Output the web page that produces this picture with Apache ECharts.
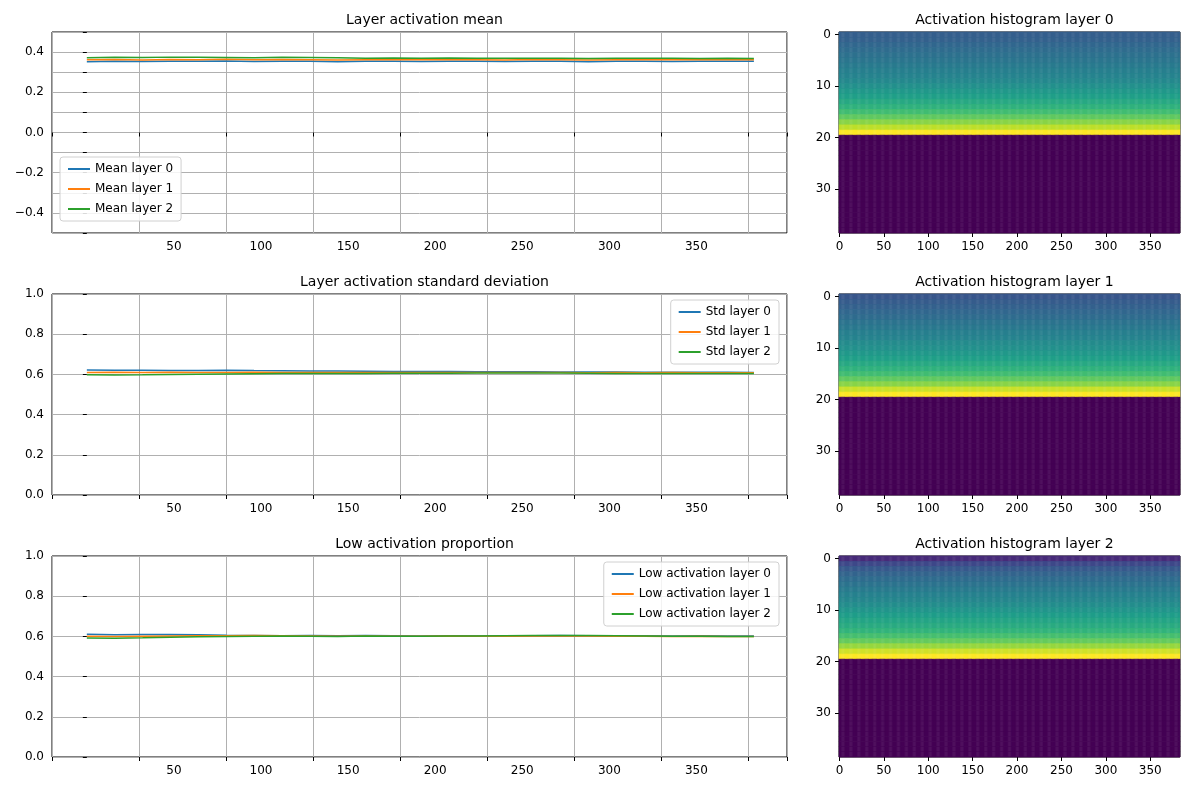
<!DOCTYPE html>
<html lang="en">
<head>
    <meta charset="UTF-8">
    <title>Layer activations</title>
    <script src="https://cdn.jsdelivr.net/npm/echarts@6.0.0/dist/echarts.min.js"></script>
</head>
<body style="margin:0">
    <div id="main" style="width: 1189px; height: 790px; background-color: #fff;"></div>
    <script>
        // sample steps
        const steps = [0, 16, 32, 48, 64, 80, 96, 112, 128, 144, 160, 176, 192, 208, 224, 240, 256, 272, 288, 304, 320, 336, 352, 368, 383];

        const mean0 = [0.352, 0.354, 0.353, 0.355, 0.354, 0.356, 0.353, 0.355, 0.354, 0.352, 0.355, 0.354, 0.353, 0.355, 0.354, 0.353, 0.355, 0.354, 0.352, 0.354, 0.355, 0.353, 0.354, 0.355, 0.354];
        const mean1 = [0.362, 0.363, 0.361, 0.363, 0.362, 0.364, 0.362, 0.363, 0.362, 0.361, 0.362, 0.363, 0.362, 0.363, 0.362, 0.361, 0.363, 0.362, 0.361, 0.362, 0.363, 0.362, 0.363, 0.362, 0.362];
        const mean2 = [0.372, 0.374, 0.373, 0.375, 0.374, 0.373, 0.372, 0.374, 0.373, 0.372, 0.370, 0.371, 0.370, 0.371, 0.370, 0.369, 0.370, 0.369, 0.368, 0.369, 0.370, 0.369, 0.368, 0.369, 0.368];

        const std0 = [0.622, 0.621, 0.621, 0.620, 0.620, 0.621, 0.619, 0.618, 0.617, 0.617, 0.616, 0.615, 0.614, 0.614, 0.613, 0.613, 0.613, 0.612, 0.612, 0.612, 0.611, 0.611, 0.611, 0.611, 0.610];
        const std1 = [0.610, 0.611, 0.610, 0.611, 0.610, 0.610, 0.611, 0.610, 0.610, 0.609, 0.610, 0.609, 0.609, 0.610, 0.609, 0.609, 0.610, 0.609, 0.608, 0.609, 0.608, 0.609, 0.608, 0.608, 0.608];
        const std2 = [0.598, 0.597, 0.598, 0.600, 0.601, 0.602, 0.603, 0.604, 0.604, 0.605, 0.605, 0.606, 0.606, 0.606, 0.607, 0.607, 0.607, 0.607, 0.606, 0.605, 0.604, 0.604, 0.605, 0.605, 0.605];

        const low0 = [0.611, 0.608, 0.609, 0.610, 0.608, 0.606, 0.605, 0.603, 0.604, 0.603, 0.604, 0.603, 0.602, 0.603, 0.602, 0.602, 0.603, 0.604, 0.603, 0.602, 0.603, 0.602, 0.603, 0.602, 0.602];
        const low1 = [0.601, 0.600, 0.601, 0.602, 0.603, 0.603, 0.604, 0.603, 0.602, 0.601, 0.602, 0.601, 0.601, 0.602, 0.601, 0.601, 0.602, 0.603, 0.602, 0.601, 0.601, 0.600, 0.601, 0.600, 0.600];
        const low2 = [0.592, 0.591, 0.593, 0.596, 0.598, 0.600, 0.601, 0.602, 0.601, 0.600, 0.602, 0.601, 0.601, 0.602, 0.602, 0.603, 0.604, 0.605, 0.604, 0.603, 0.602, 0.601, 0.601, 0.600, 0.599];

        // histogram row profiles (normalised intensity per bin, bins 0..38)
        const hist0 = [0.30, 0.31, 0.33, 0.35, 0.37, 0.39, 0.41, 0.43, 0.45, 0.47, 0.50, 0.53, 0.56, 0.60, 0.64, 0.69, 0.75, 0.82, 0.90, 1.00, 0, 0, 0, 0, 0, 0, 0, 0, 0, 0, 0, 0, 0, 0, 0, 0, 0, 0, 0];
        const hist1 = [0.27, 0.29, 0.31, 0.33, 0.35, 0.38, 0.40, 0.43, 0.45, 0.48, 0.50, 0.53, 0.56, 0.60, 0.64, 0.69, 0.75, 0.82, 0.92, 1.00, 0, 0, 0, 0, 0, 0, 0, 0, 0, 0, 0, 0, 0, 0, 0, 0, 0, 0, 0];
        const hist2 = [0.12, 0.22, 0.28, 0.32, 0.35, 0.38, 0.41, 0.44, 0.46, 0.49, 0.52, 0.55, 0.58, 0.61, 0.65, 0.70, 0.76, 0.84, 0.93, 1.00, 0, 0, 0, 0, 0, 0, 0, 0, 0, 0, 0, 0, 0, 0, 0, 0, 0, 0, 0];

        const colors = ['#1f77b4', '#ff7f0e', '#2ca02c'];
        const viridis = ['#440154', '#482878', '#3e4989', '#31688e', '#26828e', '#1f9e89', '#35b779', '#6ece58', '#b5de2b', '#fde725'];
        const histCols = Array.from({ length: 384 }, (_, i) => String(i));
        const histRows = Array.from({ length: 39 }, (_, i) => String(i));

        const myChart = echarts.init(document.getElementById('main'));
        const tops = [32, 294, 556];
        const font = 'DejaVu Sans';

        const grid = [], xAxis = [], yAxis = [], title = [], legend = [], series = [];

        const lineSets = [
            { title: 'Layer activation mean', min: -0.5, max: 0.5, interval: 0.2, names: ['Mean layer 0', 'Mean layer 1', 'Mean layer 2'], data: [mean0, mean1, mean2], fmt: v => v.toFixed(1), legendPos: { left: 60, top: 157 } },
            { title: 'Layer activation standard deviation', min: 0, max: 1, interval: 0.2, names: ['Std layer 0', 'Std layer 1', 'Std layer 2'], data: [std0, std1, std2], fmt: v => v.toFixed(1), legendPos: { right: 410, top: 300 } },
            { title: 'Low activation proportion', min: 0, max: 1, interval: 0.2, names: ['Low activation layer 0', 'Low activation layer 1', 'Low activation layer 2'], data: [low0, low1, low2], fmt: v => v.toFixed(1), legendPos: { right: 410, top: 562 } }
        ];

        lineSets.forEach((s, i) => {
            grid.push({ left: 52, top: tops[i], width: 735, height: 201, show: true, borderColor: '#000', borderWidth: 1 });
            xAxis.push({
                type: 'value', gridIndex: i, min: -20, max: 402, interval: 50,
                axisLine: { show: false }, axisTick: { show: true, length: 4, lineStyle: { color: '#000' } },
                axisLabel: { color: '#000', fontFamily: font, fontSize: 12, showMinLabel: false, showMaxLabel: false, customValues: [0, 50, 100, 150, 200, 250, 300, 350, 400] },
                splitLine: { show: true, lineStyle: { color: '#b0b0b0' } },
                customValues: [0, 50, 100, 150, 200, 250, 300, 350, 400]
            });
            yAxis.push({
                type: 'value', gridIndex: i, min: s.min, max: s.max,
                interval: i === 0 ? 0.1 : 0.2,
                axisLine: { show: false }, axisTick: { show: true, length: 4, lineStyle: { color: '#000' } },
                axisLabel: {
                    color: '#000', fontFamily: font, fontSize: 12,
                    formatter: v => {
                        if (i === 0 && Math.round(v * 10) % 2 !== 0 && Math.abs(v) !== 0.5) return '';
                        if (i === 0 && Math.abs(v) === 0.5) return '';
                        return s.fmt(v).replace('-', '\u2212');
                    }
                },
                splitLine: { show: true, lineStyle: { color: '#b0b0b0' } }
            });
            title.push({ text: s.title, left: 52 + 735 / 2, top: tops[i] - 24, textAlign: 'center', textStyle: { fontFamily: font, fontSize: 14, fontWeight: 'normal', color: '#000' } });
            legend.push(Object.assign({
                orient: 'vertical', data: s.names, itemWidth: 22, itemHeight: 2, itemGap: 8,
                backgroundColor: 'rgba(255,255,255,0.85)', borderColor: '#d0d0d0', borderWidth: 1, borderRadius: 3, padding: [6, 8],
                textStyle: { fontFamily: font, fontSize: 12, color: '#000' }, icon: 'rect'
            }, s.legendPos));
            s.names.forEach((n, k) => {
                series.push({
                    name: n, type: 'line', xAxisIndex: i, yAxisIndex: i, showSymbol: false,
                    data: steps.map((x, j) => [x, s.data[k][j]]),
                    lineStyle: { width: 1.5, color: colors[k] }, itemStyle: { color: colors[k] }
                });
            });
        });

        const hists = [hist0, hist1, hist2];
        const hmSeries = [];
        hists.forEach((h, i) => {
            const gi = 3 + i;
            grid.push({ left: 839, top: tops[i], width: 341, height: 201, show: true, borderColor: '#000', borderWidth: 1 });
            xAxis.push({
                type: 'category', gridIndex: gi, data: histCols,
                axisLine: { show: false },
                axisTick: { show: true, alignWithLabel: true, interval: (idx) => idx % 50 === 0, length: 4, lineStyle: { color: '#000' } },
                axisLabel: { color: '#000', fontFamily: font, fontSize: 12, interval: (idx) => idx % 50 === 0 },
                splitLine: { show: false }
            });
            yAxis.push({
                type: 'category', gridIndex: gi, data: histRows, inverse: true,
                axisLine: { show: false },
                axisTick: { show: true, alignWithLabel: true, interval: (idx) => idx % 10 === 0, length: 4, lineStyle: { color: '#000' } },
                axisLabel: { color: '#000', fontFamily: font, fontSize: 12, interval: (idx) => idx % 10 === 0 },
                splitLine: { show: false }
            });
            title.push({ text: 'Activation histogram layer ' + i, left: 839 + 341 / 2, top: tops[i] - 24, textAlign: 'center', textStyle: { fontFamily: font, fontSize: 14, fontWeight: 'normal', color: '#000' } });
            const cells = [];
            for (let c = 0; c < 384; c++) {
                for (let r = 0; r < 39; r++) cells.push([c, r, h[r]]);
            }
            hmSeries.push(series.length);
            series.push({ type: 'heatmap', xAxisIndex: gi, yAxisIndex: gi, data: cells, progressive: 0, animation: false });
        });

        const option = {
            animation: false,
            title, grid, xAxis, yAxis, legend, series,
            visualMap: { show: false, min: 0, max: 1, seriesIndex: hmSeries, inRange: { color: viridis } }
        };
        myChart.setOption(option);
    </script>
</body>
</html>
